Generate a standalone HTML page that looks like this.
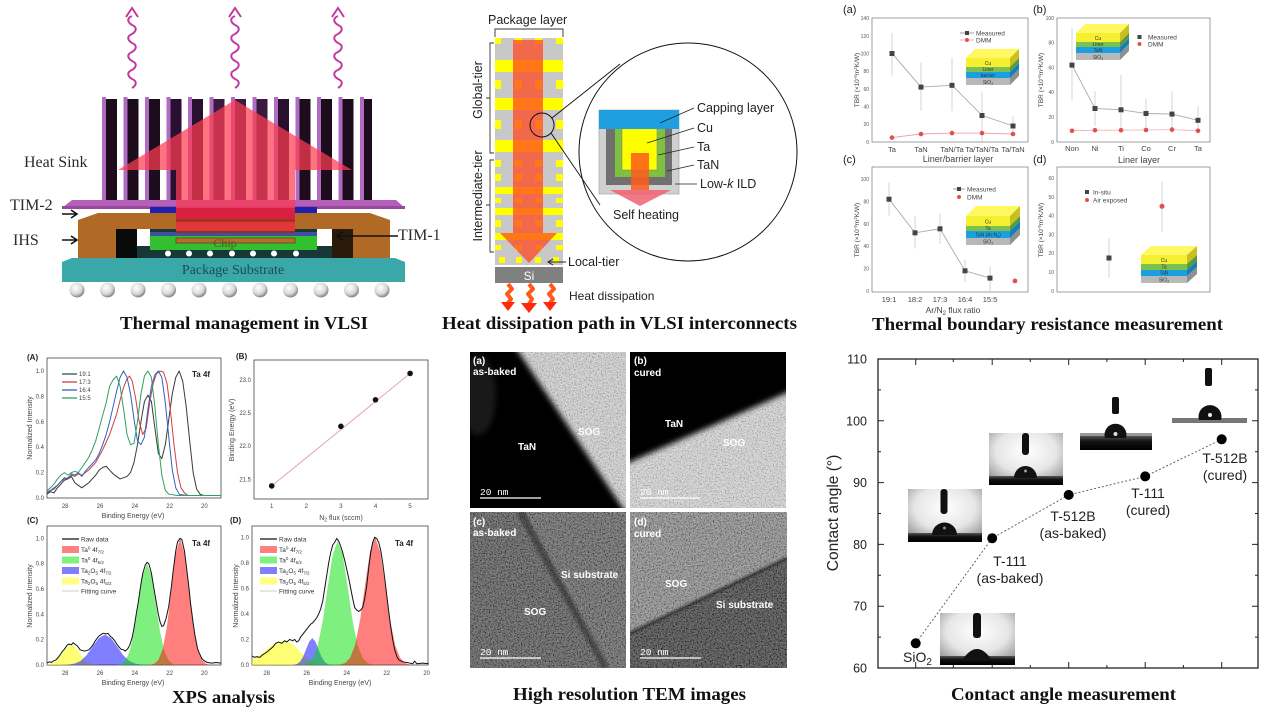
<!DOCTYPE html>
<html><head><meta charset="utf-8">
<style>
html,body{margin:0;padding:0;background:#fff;}
svg{display:block;}
</style></head><body>
<svg width="1268" height="716" viewBox="0 0 1268 716" xmlns="http://www.w3.org/2000/svg" font-family="Liberation Sans, sans-serif">
<defs>
  <radialGradient id="ball" cx="0.4" cy="0.35" r="0.7">
    <stop offset="0" stop-color="#ffffff"/><stop offset="0.6" stop-color="#d8d8d8"/><stop offset="1" stop-color="#707070"/>
  </radialGradient>
  <radialGradient id="dg" cx="0.5" cy="0.35" r="0.75">
    <stop offset="0" stop-color="#ffffff"/><stop offset="0.55" stop-color="#e6e6e6"/><stop offset="1" stop-color="#8a8a8a"/>
  </radialGradient>
  <linearGradient id="bar" x1="0" y1="0" x2="0" y2="1">
    <stop offset="0" stop-color="#555"/><stop offset="0.4" stop-color="#111"/><stop offset="1" stop-color="#000"/>
  </linearGradient>
  <filter id="bl" x="-10%" y="-10%" width="120%" height="120%"><feGaussianBlur stdDeviation="3"/></filter>
  <filter id="bl1" x="-10%" y="-10%" width="120%" height="120%"><feGaussianBlur stdDeviation="1.2"/></filter>
  <filter id="nz" x="0" y="0" width="100%" height="100%">
    <feTurbulence type="fractalNoise" baseFrequency="0.75" numOctaves="2" seed="5"/>
    <feColorMatrix type="matrix" values="2.2 0 0 0 -0.6  2.2 0 0 0 -0.6  2.2 0 0 0 -0.6  0 0 0 0 1"/>
  </filter>
  <clipPath id="ca"><rect x="470" y="352" width="156" height="156"/></clipPath>
  <clipPath id="cb"><rect x="630" y="352" width="156" height="156"/></clipPath>
  <clipPath id="cc"><rect x="470" y="512" width="156" height="156"/></clipPath>
  <clipPath id="cd"><rect x="630" y="512" width="157" height="156"/></clipPath>
</defs>

<rect width="1268" height="716" fill="#fff"/>

<!-- ================= PANEL 1: Thermal management ================= -->
<g fill="none" stroke="#c0399f" stroke-width="2">
  <path d="M132 88 c5 -3 5 -7 0 -9 c-5 -3 -5 -7 0 -9 c5 -3 5 -7 0 -9 c-5 -3 -5 -7 0 -9 c5 -3 5 -7 0 -9 c-5 -3 -5 -7 0 -9 c5 -3 5 -7 0 -9 c-5 -3 -5 -7 0 -9"/>
  <path d="M126 17 L132 8 L138 17"/>
  <path d="M235 88 c5 -3 5 -7 0 -9 c-5 -3 -5 -7 0 -9 c5 -3 5 -7 0 -9 c-5 -3 -5 -7 0 -9 c5 -3 5 -7 0 -9 c-5 -3 -5 -7 0 -9 c5 -3 5 -7 0 -9 c-5 -3 -5 -7 0 -9"/>
  <path d="M229 17 L235 8 L241 17"/>
  <path d="M338 88 c5 -3 5 -7 0 -9 c-5 -3 -5 -7 0 -9 c5 -3 5 -7 0 -9 c-5 -3 -5 -7 0 -9 c5 -3 5 -7 0 -9 c-5 -3 -5 -7 0 -9 c5 -3 5 -7 0 -9 c-5 -3 -5 -7 0 -9"/>
  <path d="M332 17 L338 8 L344 17"/>
</g>
<!-- fins -->
<g>
  <rect x="102" y="97" width="4" height="103" fill="#b06cc0"/><rect x="106" y="99" width="11" height="101" fill="#1c0c1c"/>
  <rect x="123.5" y="97" width="4" height="103" fill="#b06cc0"/><rect x="127.5" y="99" width="11" height="101" fill="#1c0c1c"/>
  <rect x="145" y="97" width="4" height="103" fill="#b06cc0"/><rect x="149" y="99" width="11" height="101" fill="#1c0c1c"/>
  <rect x="166.5" y="97" width="4" height="103" fill="#b06cc0"/><rect x="170.5" y="99" width="11" height="101" fill="#2a1030"/>
  <rect x="188" y="97" width="4" height="103" fill="#b06cc0"/><rect x="192" y="99" width="11" height="101" fill="#2a1030"/>
  <rect x="209.5" y="97" width="4" height="103" fill="#b06cc0"/><rect x="213.5" y="99" width="11" height="101" fill="#3a1a40"/>
  <rect x="231" y="97" width="4" height="103" fill="#b06cc0"/><rect x="235" y="99" width="11" height="101" fill="#3a1a40"/>
  <rect x="252.5" y="97" width="4" height="103" fill="#b06cc0"/><rect x="256.5" y="99" width="11" height="101" fill="#3a1a40"/>
  <rect x="274" y="97" width="4" height="103" fill="#b06cc0"/><rect x="278" y="99" width="11" height="101" fill="#2a1030"/>
  <rect x="295.5" y="97" width="4" height="103" fill="#b06cc0"/><rect x="299.5" y="99" width="11" height="101" fill="#1c0c1c"/>
  <rect x="317" y="97" width="4" height="103" fill="#b06cc0"/><rect x="321" y="99" width="11" height="101" fill="#1c0c1c"/>
  <rect x="338.5" y="97" width="4" height="103" fill="#b06cc0"/><rect x="342.5" y="99" width="11" height="101" fill="#1c0c1c"/>
  <rect x="360" y="97" width="4" height="103" fill="#b06cc0"/><rect x="364" y="99" width="8" height="101" fill="#1c0c1c"/>
</g>
<!-- base plate -->
<polygon points="62,208 72,200 396,200 405,208" fill="#b560b8"/>
<rect x="62" y="206" width="343" height="3" fill="#9a4a9e"/>
<!-- TIM-2 blue -->
<rect x="150" y="207" width="27" height="6" fill="#2020b0"/>
<rect x="295" y="207" width="22" height="6" fill="#2020b0"/>
<!-- IHS -->
<polygon points="78,220 98,213 370,213 390,220 390,258 78,258" fill="#b06a26"/>
<rect x="116" y="229" width="237" height="29" fill="#183838"/>
<rect x="116" y="229" width="21" height="29" fill="#0a0a0a"/>
<rect x="332" y="229" width="21" height="29" fill="#2a1a0a"/>
<rect x="137" y="229" width="13" height="17" fill="#ffffff"/>
<rect x="317" y="229" width="15" height="17" fill="#ffffff"/>
<rect x="150" y="232" width="167" height="4" fill="#4050a0"/>
<rect x="150" y="236" width="167" height="14" fill="#30c030"/>
<rect x="176" y="238" width="119" height="5" fill="#b07030" stroke="#7a3a1a" stroke-width="0.8"/>
<text x="225" y="247" font-family="Liberation Serif, serif" font-size="12" fill="#6b4a2a" text-anchor="middle">Chip</text>
<g fill="#ffffff"><circle cx="168" cy="253.5" r="3"/><circle cx="189" cy="253.5" r="3"/><circle cx="210" cy="253.5" r="3"/><circle cx="232" cy="253.5" r="3"/><circle cx="253" cy="253.5" r="3"/><circle cx="274" cy="253.5" r="3"/><circle cx="296" cy="253.5" r="3"/></g>
<!-- red heat path -->
<polygon points="235,100 352,170 295,170 295,213 176,213 176,170 118,170" fill="#ff3b50" opacity="0.72"/>
<rect x="176" y="208" width="119" height="11" fill="#d82040"/>
<rect x="176" y="219" width="119" height="3" fill="#a83020"/>
<rect x="176" y="222" width="119" height="9" fill="#e03838"/>
<rect x="176" y="231" width="119" height="2" fill="#903020"/>
<!-- substrate -->
<polygon points="62,262 72,258 395,258 405,262 405,282 62,282" fill="#3aa8a8"/>
<text x="233" y="274" font-family="Liberation Serif, serif" font-size="14" fill="#1a4a5a" text-anchor="middle">Package Substrate</text>
<g fill="url(#ball)">
  <circle cx="77" cy="290" r="7.5"/><circle cx="107.5" cy="290" r="7.5"/><circle cx="138" cy="290" r="7.5"/><circle cx="168.5" cy="290" r="7.5"/><circle cx="199" cy="290" r="7.5"/><circle cx="229.5" cy="290" r="7.5"/><circle cx="260" cy="290" r="7.5"/><circle cx="290.5" cy="290" r="7.5"/><circle cx="321" cy="290" r="7.5"/><circle cx="351.5" cy="290" r="7.5"/><circle cx="382" cy="290" r="7.5"/>
</g>
<!-- labels -->
<g font-family="Liberation Serif, serif" font-size="16" fill="#2a2a2a">
  <text x="24" y="167">Heat Sink</text>
  <text x="10" y="210">TIM-2</text>
  <text x="13" y="245">IHS</text>
  <text x="398" y="240">TIM-1</text>
</g>
<g stroke="#111" stroke-width="1.6" fill="none">
  <path d="M62 214 L76 214 M71 210 L77 214 L71 218"/>
  <path d="M62 240 L76 240 M71 236 L77 240 L71 244"/>
  <path d="M337 236 L398 236 M343 232 L336 236 L343 240"/>
</g>
<text x="120" y="329" font-family="Liberation Serif, serif" font-weight="bold" font-size="18" fill="#111" textLength="248" lengthAdjust="spacingAndGlyphs">Thermal management in VLSI</text>

<!-- ================= PANEL 2: Heat dissipation ================= -->
<text x="488" y="24" font-size="12.5" fill="#222">Package layer</text>
<path d="M495 37 L495 29 L563 29 L563 37" fill="none" stroke="#333" stroke-width="0.9"/>
<rect x="495" y="38" width="68" height="227" fill="#c8c8c8"/>
<g fill="#ffff00">
  <rect x="495" y="60" width="68" height="12"/><rect x="495" y="98" width="68" height="12"/><rect x="495" y="140" width="68" height="12"/>
  <rect x="495" y="187" width="68" height="7"/><rect x="495" y="208" width="68" height="7"/><rect x="495" y="233" width="68" height="7"/>
  <rect x="495" y="38" width="6" height="6"/><rect x="515" y="38" width="7" height="6"/><rect x="535" y="38" width="7" height="6"/><rect x="556" y="38" width="7" height="6"/>
  <rect x="495" y="80" width="6" height="9"/><rect x="515" y="80" width="7" height="9"/><rect x="535" y="80" width="7" height="9"/><rect x="556" y="80" width="7" height="9"/>
  <rect x="495" y="120" width="6" height="9"/><rect x="515" y="120" width="7" height="9"/><rect x="535" y="120" width="7" height="9"/><rect x="556" y="120" width="7" height="9"/>
  <rect x="495" y="160" width="6" height="7"/><rect x="515" y="160" width="7" height="7"/><rect x="535" y="160" width="7" height="7"/><rect x="556" y="160" width="7" height="7"/>
  <rect x="495" y="174" width="6" height="7"/><rect x="515" y="174" width="7" height="7"/><rect x="535" y="174" width="7" height="7"/><rect x="556" y="174" width="7" height="7"/>
  <rect x="495" y="198" width="6" height="5"/><rect x="515" y="198" width="7" height="5"/><rect x="535" y="198" width="7" height="5"/><rect x="556" y="198" width="7" height="5"/>
  <rect x="495" y="220" width="6" height="7"/><rect x="515" y="220" width="7" height="7"/><rect x="535" y="220" width="7" height="7"/><rect x="556" y="220" width="7" height="7"/>
  <rect x="495" y="245" width="6" height="5"/><rect x="515" y="245" width="7" height="5"/><rect x="535" y="245" width="7" height="5"/><rect x="556" y="245" width="7" height="5"/>
  <rect x="499" y="257" width="6" height="6"/><rect x="516" y="257" width="6" height="6"/><rect x="535" y="257" width="6" height="6"/><rect x="553" y="257" width="6" height="6"/>
</g>
<polygon points="513,40 543,40 543,233 557,233 529,263 500,233 513,233" fill="#ff4a20" opacity="0.75"/>
<rect x="495" y="267" width="68" height="16" fill="#808080"/>
<text x="529" y="280" font-size="12" fill="#fff" text-anchor="middle">Si</text>
<!-- brackets -->
<path d="M494 43 L490 43 L490 153 L494 153 M490 98 L486 98" fill="none" stroke="#333" stroke-width="0.9"/>
<path d="M494 160 L490 160 L490 252 L494 252 M490 205 L486 205" fill="none" stroke="#333" stroke-width="0.9"/>
<text transform="translate(482,90) rotate(-90)" font-size="12.5" fill="#222" text-anchor="middle">Global-tier</text>
<text transform="translate(482,196) rotate(-90)" font-size="12.5" fill="#222" text-anchor="middle">Intermediate-tier</text>
<path d="M566 262 L549 262 M553 259 L548 262 L553 265" fill="none" stroke="#222" stroke-width="1"/>
<text x="568" y="266" font-size="12.5" fill="#222">Local-tier</text>
<!-- heat dissipation arrows -->
<g fill="none" stroke="#ff5a1a" stroke-width="4" stroke-linejoin="round">
  <path d="M508 284 l4 5 l-5 5 l4 5 l-3 4"/>
  <path d="M529 284 l4 5 l-5 5 l4 5 l-3 5"/>
  <path d="M550 284 l4 5 l-5 5 l4 5 l-3 4"/>
</g>
<g fill="#ff2a0a">
  <polygon points="501,302 515,302 508,311"/><polygon points="521,303 537,303 529,313"/><polygon points="543,302 557,302 550,311"/>
</g>
<text x="569" y="300" font-size="12" fill="#222">Heat dissipation</text>
<!-- zoom circles -->
<circle cx="542" cy="125" r="12" fill="none" stroke="#111" stroke-width="1"/>
<line x1="552" y1="118" x2="620" y2="64" stroke="#111" stroke-width="0.9"/>
<line x1="551" y1="133" x2="600" y2="205" stroke="#111" stroke-width="0.9"/>
<circle cx="688" cy="152" r="109" fill="none" stroke="#111" stroke-width="1"/>
<rect x="599" y="110" width="80" height="84" fill="#d0d0d0" stroke="#999" stroke-width="0.6"/>
<rect x="606" y="128" width="66" height="57" fill="#707070"/>
<rect x="615" y="128" width="50" height="49" fill="#80c040"/>
<rect x="622" y="128" width="35" height="42" fill="#ffff00" stroke="#777" stroke-width="0.5"/>
<rect x="599" y="110" width="80" height="19" fill="#1ea0e0"/>
<rect x="631" y="153" width="18" height="37" fill="#ff5a1a" opacity="0.85"/>
<polygon points="610,190 671,190 640,206" fill="#f06070" opacity="0.85"/>
<g stroke="#222" stroke-width="0.8">
  <line x1="694" y1="108" x2="660" y2="123"/>
  <line x1="694" y1="128" x2="647" y2="143"/>
  <line x1="694" y1="147" x2="658" y2="155"/>
  <line x1="694" y1="165" x2="667" y2="171"/>
  <line x1="697" y1="184" x2="675" y2="184"/>
</g>
<g font-size="12.5" fill="#222">
  <text x="697" y="112">Capping layer</text>
  <text x="697" y="132">Cu</text>
  <text x="697" y="151">Ta</text>
  <text x="697" y="169">TaN</text>
  <text x="700" y="188">Low-<tspan font-style="italic">k</tspan> ILD</text>
  <text x="646" y="219" text-anchor="middle">Self heating</text>
</g>
<text x="442" y="329" font-family="Liberation Serif, serif" font-weight="bold" font-size="18" fill="#111" textLength="355" lengthAdjust="spacingAndGlyphs">Heat dissipation path in VLSI interconnects</text>

<!-- ================= PANEL 3: TBR ================= -->
<g font-size="11" fill="#222">
  <text x="843" y="13">(a)</text><text x="1033" y="13">(b)</text>
  <text x="843" y="163">(c)</text><text x="1033" y="163">(d)</text>
</g>
<g fill="none" stroke="#777" stroke-width="0.7">
  <rect x="872" y="18" width="156" height="124"/>
  <rect x="1057" y="18" width="153" height="124"/>
  <rect x="872" y="167" width="156" height="125"/>
  <rect x="1057" y="167" width="153" height="125"/>
</g>
<!-- (a) -->
<g font-size="5" fill="#555" text-anchor="end">
  <text x="869" y="144">0</text><text x="869" y="126">20</text><text x="869" y="108.5">40</text><text x="869" y="91">60</text><text x="869" y="73">80</text><text x="869" y="55.5">100</text><text x="869" y="38">120</text><text x="869" y="20">140</text>
</g>
<g font-size="7.5" fill="#444" text-anchor="middle">
  <text x="892" y="152">Ta</text><text x="921" y="152">TaN</text><text x="952" y="152">TaN/Ta</text><text x="982" y="152">Ta/TaN/Ta</text><text x="1013" y="152">Ta/TaN</text>
</g>
<text x="958" y="162" font-size="9" fill="#444" text-anchor="middle">Liner/barrier layer</text>
<text transform="translate(859,80) rotate(-90)" font-size="6.5" fill="#444" text-anchor="middle">TBR  (×10<tspan font-size="4.5" dy="-2">-9</tspan><tspan dy="2">m</tspan><tspan font-size="4.5" dy="-2">2</tspan><tspan dy="2">K/W)</tspan></text>
<g stroke="#bbb" stroke-width="0.6">
  <line x1="892" y1="33" x2="892" y2="75.5"/><line x1="921" y1="62.3" x2="921" y2="111"/><line x1="952" y1="57.8" x2="952" y2="111"/><line x1="982" y1="91.5" x2="982" y2="142"/><line x1="1013" y1="116.3" x2="1013" y2="133"/>
</g>
<polyline points="892,53.4 921,87.1 952,85.3 982,115.4 1013,126" fill="none" stroke="#aaa" stroke-width="0.9"/>
<polyline points="892,137.6 921,134 952,133.1 982,133.1 1013,134" fill="none" stroke="#f0a0a0" stroke-width="0.9"/>
<g fill="#444"><rect x="889.5" y="51" width="5" height="5"/><rect x="918.5" y="84.6" width="5" height="5"/><rect x="949.5" y="82.8" width="5" height="5"/><rect x="979.5" y="113" width="5" height="5"/><rect x="1010.5" y="123.5" width="5" height="5"/></g>
<g fill="#e05050"><circle cx="892" cy="137.6" r="2.3"/><circle cx="921" cy="134" r="2.3"/><circle cx="952" cy="133.1" r="2.3"/><circle cx="982" cy="133.1" r="2.3"/><circle cx="1013" cy="134" r="2.3"/></g>
<line x1="960" y1="33" x2="974" y2="33" stroke="#888" stroke-width="0.8"/><rect x="965" y="31" width="4" height="4" fill="#444"/>
<line x1="960" y1="40" x2="974" y2="40" stroke="#f0a0a0" stroke-width="0.8"/><circle cx="967" cy="40" r="2" fill="#e05050"/>
<g font-size="6.5" fill="#444"><text x="976" y="35.5">Measured</text><text x="976" y="42.5">DMM</text></g>
<!-- (b) -->
<g font-size="5" fill="#555" text-anchor="end">
  <text x="1054" y="144">0</text><text x="1054" y="119">20</text><text x="1054" y="94">40</text><text x="1054" y="69.5">60</text><text x="1054" y="44.5">80</text><text x="1054" y="20">100</text>
</g>
<g font-size="7.5" fill="#444" text-anchor="middle">
  <text x="1072" y="151">Non</text><text x="1095" y="151">Ni</text><text x="1121" y="151">Ti</text><text x="1146" y="151">Co</text><text x="1172" y="151">Cr</text><text x="1198" y="151">Ta</text>
</g>
<text x="1139" y="163" font-size="9" fill="#444" text-anchor="middle">Liner layer</text>
<text transform="translate(1043,80) rotate(-90)" font-size="6.5" fill="#444" text-anchor="middle">TBR  (×10<tspan font-size="4.5" dy="-2">-9</tspan><tspan dy="2">m</tspan><tspan font-size="4.5" dy="-2">2</tspan><tspan dy="2">K/W)</tspan></text>
<g stroke="#bbb" stroke-width="0.6">
  <line x1="1072" y1="27.9" x2="1072" y2="99.8"/><line x1="1095" y1="91.2" x2="1095" y2="125.9"/><line x1="1121" y1="75" x2="1121" y2="130.8"/><line x1="1146" y1="98.6" x2="1146" y2="129.6"/><line x1="1172" y1="91.2" x2="1172" y2="133.3"/><line x1="1198" y1="106" x2="1198" y2="130.8"/>
</g>
<polyline points="1072,65.1 1095,108.5 1121,109.8 1146,113.5 1172,114.1 1198,120.3" fill="none" stroke="#aaa" stroke-width="0.9"/>
<polyline points="1072,130.8 1095,130.2 1121,130.2 1146,130 1172,129.6 1198,130.8" fill="none" stroke="#f0b0b0" stroke-width="0.8"/>
<g fill="#444"><rect x="1069.5" y="62.6" width="5" height="5"/><rect x="1092.5" y="106" width="5" height="5"/><rect x="1118.5" y="107.3" width="5" height="5"/><rect x="1143.5" y="111" width="5" height="5"/><rect x="1169.5" y="111.6" width="5" height="5"/><rect x="1195.5" y="117.8" width="5" height="5"/></g>
<g fill="#e05050"><circle cx="1072" cy="130.8" r="2.3"/><circle cx="1095" cy="130.2" r="2.3"/><circle cx="1121" cy="130.2" r="2.3"/><circle cx="1146" cy="130" r="2.3"/><circle cx="1172" cy="129.6" r="2.3"/><circle cx="1198" cy="130.8" r="2.3"/></g>
<rect x="1137.5" y="35" width="4" height="4" fill="#444"/><circle cx="1139.5" cy="44" r="2" fill="#e05050"/>
<g font-size="6.5" fill="#444"><text x="1148" y="39.5">Measured</text><text x="1148" y="46.5">DMM</text></g>
<!-- (c) -->
<g font-size="5" fill="#555" text-anchor="end">
  <text x="869" y="293">0</text><text x="869" y="270.5">20</text><text x="869" y="248">40</text><text x="869" y="226">60</text><text x="869" y="203.5">80</text><text x="869" y="181">100</text>
</g>
<g font-size="7.5" fill="#444" text-anchor="middle">
  <text x="889" y="302">19:1</text><text x="915" y="302">18:2</text><text x="940" y="302">17:3</text><text x="965" y="302">16:4</text><text x="990" y="302">15:5</text>
</g>
<text x="953" y="313" font-size="8.5" fill="#444" text-anchor="middle">Ar/N<tspan font-size="6" dy="2">2</tspan><tspan dy="-2"> flux ratio</tspan></text>
<text transform="translate(859,230) rotate(-90)" font-size="6.5" fill="#444" text-anchor="middle">TBR  (×10<tspan font-size="4.5" dy="-2">-9</tspan><tspan dy="2">m</tspan><tspan font-size="4.5" dy="-2">2</tspan><tspan dy="2">K/W)</tspan></text>
<g stroke="#bbb" stroke-width="0.6">
  <line x1="889" y1="182.4" x2="889" y2="216"/><line x1="915" y1="216" x2="915" y2="248.4"/><line x1="940" y1="213.7" x2="940" y2="244"/><line x1="965" y1="259.6" x2="965" y2="282"/><line x1="990" y1="266.4" x2="990" y2="291"/>
</g>
<polyline points="889,199.2 915,232.8 940,228.8 965,270.8 990,278.1" fill="none" stroke="#aaa" stroke-width="0.9"/>
<g fill="#444"><rect x="886.5" y="196.7" width="5" height="5"/><rect x="912.5" y="230.3" width="5" height="5"/><rect x="937.5" y="226.3" width="5" height="5"/><rect x="962.5" y="268.3" width="5" height="5"/><rect x="987.5" y="275.6" width="5" height="5"/></g>
<circle cx="1015" cy="280.9" r="2.4" fill="#e05050"/>
<line x1="953" y1="189" x2="965" y2="189" stroke="#888" stroke-width="0.8"/><rect x="957" y="187" width="4" height="4" fill="#444"/>
<circle cx="959" cy="197" r="2" fill="#e05050"/>
<g font-size="6.5" fill="#444"><text x="967" y="191.5">Measured</text><text x="967" y="199.5">DMM</text></g>
<!-- (d) -->
<g font-size="5" fill="#555" text-anchor="end">
  <text x="1054" y="293">0</text><text x="1054" y="274">10</text><text x="1054" y="255">20</text><text x="1054" y="236.5">30</text><text x="1054" y="217.5">40</text><text x="1054" y="199">50</text><text x="1054" y="180">60</text>
</g>
<text transform="translate(1043,230) rotate(-90)" font-size="6.5" fill="#444" text-anchor="middle">TBR  (×10<tspan font-size="4.5" dy="-2">-9</tspan><tspan dy="2">m</tspan><tspan font-size="4.5" dy="-2">2</tspan><tspan dy="2">K/W)</tspan></text>
<g stroke="#bbb" stroke-width="0.6"><line x1="1109" y1="238.3" x2="1109" y2="277.8"/><line x1="1162" y1="181.8" x2="1162" y2="231.7"/></g>
<rect x="1106.5" y="255.5" width="5" height="5" fill="#444"/>
<circle cx="1162" cy="206.3" r="2.5" fill="#e05050"/>
<rect x="1085" y="190" width="4" height="4" fill="#444"/><circle cx="1087" cy="200" r="2" fill="#e05050"/>
<g font-size="6.5" fill="#444"><text x="1093" y="194.5">In-situ</text><text x="1093" y="202.5">Air exposed</text></g>
<!-- insets -->
<g transform="translate(966,58)">
  <polygon points="0,0 9,-9 53,-9 44,0" fill="#fff860"/>
  <rect x="0" y="0" width="44" height="9" fill="#f5f032"/><rect x="0" y="9" width="44" height="5" fill="#7cc050"/><rect x="0" y="14" width="44" height="6" fill="#1aa0e0"/><rect x="0" y="20" width="44" height="7" fill="#b8b8b8"/>
  <polygon points="44,0 53,-9 53,0 44,9" fill="#c8c020"/><polygon points="44,9 53,0 53,5 44,14" fill="#5a9a3a"/><polygon points="44,14 53,5 53,11 44,20" fill="#1580b8"/><polygon points="44,20 53,11 53,18 44,27" fill="#909090"/>
  <g font-size="5" fill="#333" text-anchor="middle"><text x="22" y="7">Cu</text><text x="22" y="13">Liner</text><text x="22" y="19">barrier</text><text x="22" y="26">SiO<tspan font-size="3.5" dy="1">2</tspan></text></g>
</g>
<g transform="translate(1076,33)">
  <polygon points="0,0 9,-9 53,-9 44,0" fill="#fff860"/>
  <rect x="0" y="0" width="44" height="9" fill="#f5f032"/><rect x="0" y="9" width="44" height="5" fill="#7cc050"/><rect x="0" y="14" width="44" height="6" fill="#1aa0e0"/><rect x="0" y="20" width="44" height="7" fill="#b8b8b8"/>
  <polygon points="44,0 53,-9 53,0 44,9" fill="#c8c020"/><polygon points="44,9 53,0 53,5 44,14" fill="#5a9a3a"/><polygon points="44,14 53,5 53,11 44,20" fill="#1580b8"/><polygon points="44,20 53,11 53,18 44,27" fill="#909090"/>
  <g font-size="5" fill="#333" text-anchor="middle"><text x="22" y="7">Cu</text><text x="22" y="13">Liner</text><text x="22" y="19">TaN</text><text x="22" y="26">SiO<tspan font-size="3.5" dy="1">2</tspan></text></g>
</g>
<g transform="translate(966,216)">
  <polygon points="0,0 10,-10 54,-10 44,0" fill="#fff860"/>
  <rect x="0" y="0" width="44" height="10" fill="#f5f032"/><rect x="0" y="10" width="44" height="5" fill="#7cc050"/><rect x="0" y="15" width="44" height="7" fill="#1aa0e0"/><rect x="0" y="22" width="44" height="7" fill="#b8b8b8"/>
  <polygon points="44,0 54,-10 54,0 44,10" fill="#c8c020"/><polygon points="44,10 54,0 54,5 44,15" fill="#5a9a3a"/><polygon points="44,15 54,5 54,12 44,22" fill="#1580b8"/><polygon points="44,22 54,12 54,19 44,29" fill="#909090"/>
  <g font-size="5" fill="#333" text-anchor="middle"><text x="22" y="7.5">Cu</text><text x="22" y="14">Ta</text><text x="22" y="20.5">TaN (Ar:N<tspan font-size="3.5" dy="1">2</tspan><tspan dy="-1">)</tspan></text><text x="22" y="27.5">SiO<tspan font-size="3.5" dy="1">2</tspan></text></g>
</g>
<g transform="translate(1141,255)">
  <polygon points="0,0 10,-9 56,-9 46,0" fill="#fff860"/>
  <rect x="0" y="0" width="46" height="9" fill="#f5f032"/><rect x="0" y="9" width="46" height="6" fill="#7cc050"/><rect x="0" y="15" width="46" height="6" fill="#1aa0e0"/><rect x="0" y="21" width="46" height="7" fill="#b8b8b8"/>
  <polygon points="46,0 56,-9 56,0 46,9" fill="#c8c020"/><polygon points="46,9 56,0 56,6 46,15" fill="#5a9a3a"/><polygon points="46,15 56,6 56,12 46,21" fill="#1580b8"/><polygon points="46,21 56,12 56,19 46,28" fill="#909090"/>
  <g font-size="5" fill="#333" text-anchor="middle"><text x="23" y="7">Cu</text><text x="23" y="13.5">Ta</text><text x="23" y="19.5">TaN</text><text x="23" y="26.5">SiO<tspan font-size="3.5" dy="1">2</tspan></text></g>
</g>
<text x="872" y="330" font-family="Liberation Serif, serif" font-weight="bold" font-size="18" fill="#111" textLength="351" lengthAdjust="spacingAndGlyphs">Thermal boundary resistance measurement</text>

<!-- ================= XPS ================= -->
<g fill="none" stroke="#444" stroke-width="0.8">
  <rect x="47" y="358" width="174" height="140"/>
  <rect x="254" y="360" width="174" height="139"/>
  <rect x="47" y="526" width="174" height="139"/>
  <rect x="252" y="526" width="176" height="139"/>
</g>
<g font-size="8" font-weight="bold" fill="#222">
  <text x="27" y="360">(A)</text><text x="236" y="359">(B)</text><text x="27" y="523">(C)</text><text x="230" y="523">(D)</text>
  <text x="192" y="377">Ta 4f</text><text x="192" y="546">Ta 4f</text><text x="395" y="546">Ta 4f</text>
</g>
<g font-size="6" fill="#444" text-anchor="middle">
  <text x="65.2" y="508">28</text><text x="100" y="508">26</text><text x="134.8" y="508">24</text><text x="169.6" y="508">22</text><text x="204.4" y="508">20</text>
  <text x="65.2" y="675">28</text><text x="100" y="675">26</text><text x="134.8" y="675">24</text><text x="169.6" y="675">22</text><text x="204.4" y="675">20</text>
  <text x="266.7" y="675">28</text><text x="306.7" y="675">26</text><text x="346.7" y="675">24</text><text x="386.7" y="675">22</text><text x="426.7" y="675">20</text>
  <text x="271.7" y="508">1</text><text x="306.3" y="508">2</text><text x="340.9" y="508">3</text><text x="375.5" y="508">4</text><text x="410.1" y="508">5</text>
</g>
<g font-size="6" fill="#444" text-anchor="end">
  <text x="44" y="500">0.0</text><text x="44" y="474.6">0.2</text><text x="44" y="449.2">0.4</text><text x="44" y="423.8">0.6</text><text x="44" y="398.4">0.8</text><text x="44" y="373">1.0</text>
  <text x="44" y="667">0.0</text><text x="44" y="641.7">0.2</text><text x="44" y="616.3">0.4</text><text x="44" y="591">0.6</text><text x="44" y="565.7">0.8</text><text x="44" y="540.3">1.0</text>
  <text x="249" y="667">0.0</text><text x="249" y="641.5">0.2</text><text x="249" y="616">0.4</text><text x="249" y="590.4">0.6</text><text x="249" y="564.9">0.8</text><text x="249" y="539.3">1.0</text>
  <text x="251" y="481.3">21.5</text><text x="251" y="448.2">22.0</text><text x="251" y="415.1">22.5</text><text x="251" y="382">23.0</text>
</g>
<g font-size="7" fill="#444" text-anchor="middle">
  <text x="133" y="518">Binding Energy (eV)</text>
  <text x="341" y="520">N<tspan font-size="5" dy="1.5">2</tspan><tspan dy="-1.5"> flux (sccm)</tspan></text>
  <text x="133" y="685">Binding Energy (eV)</text>
  <text x="340" y="685">Binding Energy (eV)</text>
  <text transform="translate(32,428) rotate(-90)">Normalized Intensity</text>
  <text transform="translate(234,430) rotate(-90)">Binding Energy (eV)</text>
  <text transform="translate(32,596) rotate(-90)">Normalized Intensity</text>
  <text transform="translate(238,596) rotate(-90)">Normalized Intensity</text>
</g>
<g stroke-width="1.3">
  <line x1="62" y1="374" x2="77" y2="374" stroke="#3d5048"/>
  <line x1="62" y1="382" x2="77" y2="382" stroke="#d04040"/>
  <line x1="62" y1="390" x2="77" y2="390" stroke="#3060c0"/>
  <line x1="62" y1="398" x2="77" y2="398" stroke="#30a060"/>
</g>
<g font-size="6" fill="#444"><text x="79" y="376">19:1</text><text x="79" y="384">17:3</text><text x="79" y="392">16:4</text><text x="79" y="400">15:5</text></g>
<g transform="matrix(-17.4,0,0,-127,551.6,498)" fill="none" stroke-width="1" stroke-linejoin="round">
  <polyline vector-effect="non-scaling-stroke" stroke="#3a3a3a" points="29,0.03 28.8,0.05 28.6,0.04 28.4,0.08 28.2,0.11 28,0.14 27.8,0.15 27.6,0.17 27.4,0.12 27.2,0.1 27,0.08 26.8,0.1 26.6,0.12 26.4,0.15 26.2,0.18 26,0.22 25.8,0.24 25.6,0.25 25.4,0.22 25.2,0.19 25,0.17 24.8,0.15 24.6,0.16 24.4,0.17 24.2,0.2 24,0.28 23.8,0.42 23.6,0.6 23.4,0.76 23.2,0.81 23,0.76 22.8,0.55 22.6,0.35 22.4,0.31 22.2,0.42 22,0.62 21.8,0.82 21.6,0.95 21.4,1.0 21.2,0.92 21,0.72 20.8,0.45 20.6,0.2 20.4,0.07 20.2,0.03 20,0.02 19.5,0.02 19,0.02"/>
  <polyline vector-effect="non-scaling-stroke" stroke="#d04040" points="29,0.05 28.8,0.06 28.6,0.08 28.4,0.1 28.2,0.13 28,0.15 27.8,0.16 27.6,0.18 27.4,0.17 27.2,0.19 27,0.18 26.8,0.2 26.6,0.22 26.4,0.25 26.2,0.28 26,0.33 25.8,0.38 25.6,0.44 25.4,0.5 25.2,0.58 25,0.66 24.8,0.77 24.6,0.87 24.4,0.94 24.25,0.96 24.1,0.92 23.9,0.78 23.7,0.6 23.5,0.5 23.3,0.55 23.1,0.75 22.9,0.9 22.7,0.98 22.5,1.0 22.3,0.99 22.1,0.9 21.9,0.68 21.7,0.42 21.5,0.2 21.3,0.08 21.1,0.04 20.9,0.02 20,0.02 19,0.02"/>
  <polyline vector-effect="non-scaling-stroke" stroke="#3060c0" points="29,0.04 28.8,0.06 28.6,0.07 28.4,0.1 28.2,0.13 28,0.16 27.8,0.15 27.6,0.19 27.4,0.18 27.2,0.2 27,0.17 26.8,0.21 26.6,0.24 26.4,0.27 26.2,0.3 26,0.35 25.8,0.42 25.6,0.5 25.4,0.6 25.2,0.72 25,0.84 24.8,0.95 24.6,1.0 24.4,0.95 24.2,0.82 24,0.62 23.8,0.45 23.6,0.42 23.4,0.48 23.2,0.7 23,0.88 22.8,0.97 22.6,1.0 22.4,0.95 22.2,0.75 22,0.48 21.8,0.22 21.6,0.08 21.4,0.03 21,0.02 19,0.02"/>
  <polyline vector-effect="non-scaling-stroke" stroke="#30a060" points="29,0.06 28.8,0.08 28.6,0.11 28.4,0.15 28.2,0.18 28,0.2 27.8,0.18 27.6,0.2 27.4,0.21 27.2,0.2 27,0.24 26.8,0.28 26.6,0.32 26.4,0.38 26.2,0.45 26,0.55 25.8,0.65 25.6,0.75 25.4,0.88 25.2,0.93 25,0.96 24.8,0.88 24.6,0.7 24.4,0.5 24.2,0.42 24,0.43 23.8,0.6 23.6,0.82 23.4,0.96 23.2,1.0 23,0.95 22.8,0.72 22.6,0.42 22.4,0.18 22.2,0.06 22,0.03 21.5,0.02 19,0.02"/>
</g>
<line x1="271.7" y1="485.9" x2="410.1" y2="373.4" stroke="#e0a0a0" stroke-width="0.9"/>
<g fill="#111"><circle cx="271.7" cy="485.9" r="2.8"/><circle cx="340.9" cy="426.3" r="2.8"/><circle cx="375.5" cy="399.8" r="2.8"/><circle cx="410.1" cy="373.4" r="2.8"/></g>
<g transform="matrix(-17.4,0,0,-126.7,551.6,665)">
  <polygon fill="#ffff00" fill-opacity="0.55" points="25.87,0 26.12,0.0015 26.37,0.006 26.62,0.02 26.87,0.05 27.12,0.095 27.37,0.14 27.62,0.16 27.87,0.14 28.12,0.095 28.37,0.05 28.62,0.02 28.87,0.006 29,0.003 29,0"/>
  <polygon fill="#0000ff" fill-opacity="0.5" points="23.22,0 23.57,0.0026 23.92,0.0106 24.27,0.032 24.62,0.078 24.97,0.146 25.32,0.212 25.67,0.24 26.02,0.212 26.37,0.146 26.72,0.078 27.07,0.032 27.42,0.0106 27.77,0.0026 28.12,0"/>
  <polygon fill="#00e000" fill-opacity="0.5" points="21.5,0 21.75,0.007 22,0.035 22.25,0.108 22.5,0.26 22.75,0.485 23,0.706 23.25,0.8 23.5,0.706 23.75,0.485 24,0.26 24.25,0.108 24.5,0.035 24.75,0.007 25,0"/>
  <polygon fill="#ff0000" fill-opacity="0.5" points="19.6,0 19.85,0.009 20.1,0.039 20.35,0.125 20.6,0.31 20.85,0.594 21.1,0.878 21.35,1 21.6,0.878 21.85,0.594 22.1,0.31 22.35,0.125 22.6,0.039 22.85,0.009 23.1,0"/>
  <polyline vector-effect="non-scaling-stroke" fill="none" stroke="#111" stroke-width="1" points="29,0.016 28.85,0.025 28.75,0.02 28.6,0.035 28.5,0.039 28.35,0.06 28.25,0.08 28.1,0.11 28,0.125 27.85,0.155 27.75,0.165 27.6,0.16 27.5,0.175 27.35,0.16 27.25,0.15 27.1,0.12 27,0.116 26.85,0.11 26.75,0.113 26.6,0.12 26.5,0.134 26.35,0.16 26.25,0.185 26.1,0.215 26,0.23 25.85,0.245 25.75,0.25 25.6,0.245 25.5,0.25 25.35,0.225 25.25,0.215 25.1,0.19 25,0.167 24.85,0.14 24.75,0.125 24.6,0.12 24.5,0.11 24.35,0.13 24.25,0.155 24.1,0.22 24,0.29 23.85,0.42 23.75,0.5 23.6,0.64 23.5,0.72 23.35,0.79 23.25,0.81 23.15,0.8 23,0.725 22.85,0.6 22.75,0.52 22.6,0.4 22.5,0.34 22.4,0.305 22.3,0.31 22.15,0.37 22,0.465 21.85,0.62 21.75,0.74 21.6,0.9 21.5,0.97 21.35,1.0 21.25,0.99 21.1,0.9 21,0.79 20.85,0.62 20.75,0.487 20.6,0.33 20.5,0.237 20.35,0.13 20.25,0.095 20.1,0.05 20,0.037 19.8,0.02 19.5,0.015 19.3,0.02 19,0.015"/>
</g>
<g>
  <line x1="62" y1="539" x2="79" y2="539" stroke="#111" stroke-width="1.2"/>
  <rect x="62" y="546" width="17" height="7" fill="#ff8080"/>
  <rect x="62" y="556.5" width="17" height="7" fill="#80f080"/>
  <rect x="62" y="567" width="17" height="7" fill="#8080ff"/>
  <rect x="62" y="577.5" width="17" height="7" fill="#ffff80"/>
  <line x1="62" y1="591" x2="79" y2="591" stroke="#ccc" stroke-width="1"/>
</g>
<g font-size="6.5" fill="#333">
  <text x="81" y="541.5">Raw data</text>
  <text x="81" y="552">Ta<tspan font-size="4.5" dy="-2.5">0</tspan><tspan dy="2.5"> 4f</tspan><tspan font-size="4.5" dy="1.5">7/2</tspan></text>
  <text x="81" y="562.5">Ta<tspan font-size="4.5" dy="-2.5">0</tspan><tspan dy="2.5"> 4f</tspan><tspan font-size="4.5" dy="1.5">5/2</tspan></text>
  <text x="81" y="573">Ta<tspan font-size="4.5" dy="1.5">2</tspan><tspan dy="-1.5">O</tspan><tspan font-size="4.5" dy="1.5">5</tspan><tspan dy="-1.5"> 4f</tspan><tspan font-size="4.5" dy="1.5">7/2</tspan></text>
  <text x="81" y="583.5">Ta<tspan font-size="4.5" dy="1.5">2</tspan><tspan dy="-1.5">O</tspan><tspan font-size="4.5" dy="1.5">5</tspan><tspan dy="-1.5"> 4f</tspan><tspan font-size="4.5" dy="1.5">5/2</tspan></text>
  <text x="81" y="593.5">Fitting curve</text>
</g>
<g transform="matrix(-20,0,0,-127.7,826.7,665)">
  <polygon fill="#ffff00" fill-opacity="0.55" points="24.65,0 25,0.002 25.35,0.008 25.7,0.026 26.05,0.062 26.4,0.115 26.75,0.168 27.1,0.19 27.45,0.175 27.8,0.15 28.15,0.1 28.5,0.06 28.73,0.04 28.73,0"/>
  <polygon fill="#0000ff" fill-opacity="0.5" points="24.67,0 24.82,0.002 24.97,0.009 25.12,0.028 25.27,0.068 25.42,0.127 25.57,0.185 25.72,0.21 25.87,0.185 26.02,0.127 26.17,0.068 26.32,0.028 26.47,0.009 26.62,0.002 26.77,0"/>
  <polygon fill="#00e000" fill-opacity="0.5" points="22.45,0 22.7,0.0033 22.95,0.015 23.2,0.054 23.45,0.152 23.7,0.342 23.95,0.61 24.2,0.864 24.45,0.97 24.7,0.864 24.95,0.61 25.2,0.342 25.45,0.152 25.7,0.054 25.95,0.015 26.2,0.0033 26.45,0"/>
  <polygon fill="#ff0000" fill-opacity="0.5" points="20.58,0 20.83,0.0034 21.08,0.0155 21.33,0.0554 21.58,0.157 21.83,0.353 22.08,0.629 22.33,0.891 22.58,1 22.83,0.891 23.08,0.629 23.33,0.353 23.58,0.157 23.83,0.0554 24.08,0.0155 24.33,0.0034 24.58,0"/>
  <polyline vector-effect="non-scaling-stroke" fill="none" stroke="#111" stroke-width="1" points="28.73,0.07 28.6,0.06 28.5,0.065 28.35,0.06 28.2,0.08 28.1,0.09 28,0.1 27.85,0.12 27.7,0.14 27.55,0.17 27.4,0.18 27.25,0.17 27.1,0.19 27,0.18 26.85,0.2 26.7,0.19 26.6,0.2 26.5,0.18 26.4,0.19 26.3,0.22 26.2,0.24 26.1,0.26 26,0.28 25.9,0.3 25.8,0.32 25.7,0.33 25.6,0.35 25.5,0.37 25.4,0.4 25.3,0.44 25.2,0.5 25.1,0.6 25,0.7 24.9,0.8 24.8,0.88 24.7,0.94 24.6,0.96 24.5,0.99 24.4,0.97 24.3,0.93 24.2,0.88 24.1,0.82 24,0.75 23.9,0.68 23.8,0.6 23.7,0.52 23.6,0.45 23.5,0.43 23.4,0.42 23.3,0.43 23.2,0.45 23.1,0.52 23,0.62 22.9,0.76 22.8,0.88 22.7,0.96 22.6,1.0 22.5,0.99 22.4,0.96 22.3,0.9 22.2,0.8 22.1,0.68 22,0.55 21.9,0.42 21.8,0.3 21.7,0.2 21.6,0.12 21.5,0.07 21.4,0.04 21.2,0.025 21,0.02 20.7,0.01 20.6,0.03 20.5,0.01 20.2,0.015 19.9,0.01"/>
</g>
<g>
  <line x1="260" y1="539" x2="277" y2="539" stroke="#111" stroke-width="1.2"/>
  <rect x="260" y="546" width="17" height="7" fill="#ff8080"/>
  <rect x="260" y="556.5" width="17" height="7" fill="#80f080"/>
  <rect x="260" y="567" width="17" height="7" fill="#8080ff"/>
  <rect x="260" y="577.5" width="17" height="7" fill="#ffff80"/>
  <line x1="260" y1="591" x2="277" y2="591" stroke="#ccc" stroke-width="1"/>
</g>
<g font-size="6.5" fill="#333">
  <text x="279" y="541.5">Raw data</text>
  <text x="279" y="552">Ta<tspan font-size="4.5" dy="-2.5">0</tspan><tspan dy="2.5"> 4f</tspan><tspan font-size="4.5" dy="1.5">7/2</tspan></text>
  <text x="279" y="562.5">Ta<tspan font-size="4.5" dy="-2.5">0</tspan><tspan dy="2.5"> 4f</tspan><tspan font-size="4.5" dy="1.5">5/2</tspan></text>
  <text x="279" y="573">Ta<tspan font-size="4.5" dy="1.5">2</tspan><tspan dy="-1.5">O</tspan><tspan font-size="4.5" dy="1.5">5</tspan><tspan dy="-1.5"> 4f</tspan><tspan font-size="4.5" dy="1.5">7/2</tspan></text>
  <text x="279" y="583.5">Ta<tspan font-size="4.5" dy="1.5">2</tspan><tspan dy="-1.5">O</tspan><tspan font-size="4.5" dy="1.5">5</tspan><tspan dy="-1.5"> 4f</tspan><tspan font-size="4.5" dy="1.5">5/2</tspan></text>
  <text x="279" y="593.5">Fitting curve</text>
</g>
<text x="172" y="703" font-family="Liberation Serif, serif" font-weight="bold" font-size="18" fill="#111" textLength="103" lengthAdjust="spacingAndGlyphs">XPS analysis</text>

<!-- ================= TEM ================= -->
<g clip-path="url(#ca)">
  <rect x="470" y="352" width="156" height="156" fill="#d2d2d2"/>
  <rect x="470" y="352" width="156" height="156" filter="url(#nz)" opacity="0.3"/>
  <polygon points="440,330 504,330 634,525 440,525" fill="#060606" filter="url(#bl)"/>
  <ellipse cx="478" cy="395" rx="18" ry="40" fill="#2a2a2a" opacity="0.6" filter="url(#bl)"/>
</g>
<g clip-path="url(#cb)">
  <rect x="630" y="352" width="156" height="156" fill="#d6d6d6"/>
  <rect x="630" y="352" width="156" height="156" filter="url(#nz)" opacity="0.3"/>
  <polygon points="615,330 805,330 805,384.6 615,468.6" fill="#050505" filter="url(#bl)"/>
</g>
<g clip-path="url(#cc)">
  <rect x="470" y="512" width="156" height="156" fill="#3c3c3c"/>
  <polygon points="522,505 640,505 640,680 612,680" fill="#4c4c4c"/>
  <rect x="470" y="512" width="156" height="156" filter="url(#nz)" opacity="0.4"/>
  <line x1="520" y1="512" x2="606" y2="668" stroke="#1a1a1a" stroke-width="7" opacity="0.45" filter="url(#bl1)"/>
</g>
<g clip-path="url(#cd)">
  <rect x="630" y="512" width="157" height="156" fill="#7c7c7c"/>
  <polygon points="620,637.8 800,551.8 800,680 620,680" fill="#222222"/>
  <rect x="630" y="512" width="157" height="156" filter="url(#nz)" opacity="0.4"/>
  <line x1="630" y1="633" x2="787" y2="558" stroke="#111" stroke-width="2.5" opacity="0.7" filter="url(#bl1)"/>
</g>
<g font-size="10" font-weight="bold" fill="#fff">
  <text x="473" y="364">(a)</text><text x="473" y="375">as-baked</text>
  <text x="578" y="435">SOG</text><text x="518" y="450">TaN</text>
  <text x="634" y="364">(b)</text><text x="634" y="376">cured</text>
  <text x="665" y="427">TaN</text><text x="723" y="446">SOG</text>
  <text x="473" y="525">(c)</text><text x="473" y="536">as-baked</text>
  <text x="561" y="578">Si substrate</text><text x="524" y="615">SOG</text>
  <text x="634" y="525">(d)</text><text x="634" y="537">cured</text>
  <text x="665" y="587">SOG</text><text x="716" y="608">Si substrate</text>
</g>
<g font-family="Liberation Mono, monospace" font-size="9.5" fill="#fff">
  <text x="480" y="495">20 nm</text><text x="640" y="495">20 nm</text><text x="480" y="655">20 nm</text><text x="640" y="655">20 nm</text>
</g>
<g stroke="#fff" stroke-width="1.2">
  <line x1="480" y1="498" x2="541" y2="498"/><line x1="640" y1="498" x2="700" y2="498"/>
  <line x1="480" y1="658" x2="541" y2="658"/><line x1="640" y1="658" x2="701" y2="658"/>
</g>
<text x="513" y="700" font-family="Liberation Serif, serif" font-weight="bold" font-size="18" fill="#111" textLength="233" lengthAdjust="spacingAndGlyphs">High resolution TEM images</text>

<!-- ================= Contact angle ================= -->
<rect x="878" y="359" width="380" height="309" fill="none" stroke="#222" stroke-width="1.3"/>
<g stroke="#222" stroke-width="1">
  <path d="M878 668 h6 M878 637.1 h3 M878 606.2 h6 M878 575.3 h3 M878 544.4 h6 M878 513.5 h3 M878 482.6 h6 M878 451.7 h3 M878 420.8 h6 M878 389.9 h3 M878 359 h6"/>
  <path d="M1258 668 h-6 M1258 637.1 h-3 M1258 606.2 h-6 M1258 575.3 h-3 M1258 544.4 h-6 M1258 513.5 h-3 M1258 482.6 h-6 M1258 451.7 h-3 M1258 420.8 h-6 M1258 389.9 h-3 M1258 359 h-6"/>
  <path d="M915.7 668 v-6 M953.3 668 v-3 M992.2 668 v-6 M1030.3 668 v-3 M1068.7 668 v-6 M1106.9 668 v-3 M1145.2 668 v-6 M1183.4 668 v-3 M1221.7 668 v-6"/>
  <path d="M915.7 359 v6 M953.3 359 v3 M992.2 359 v6 M1030.3 359 v3 M1068.7 359 v6 M1106.9 359 v3 M1145.2 359 v6 M1183.4 359 v3 M1221.7 359 v6"/>
</g>
<g font-size="12.5" fill="#222" text-anchor="end">
  <text x="867" y="672.5">60</text><text x="867" y="610.7">70</text><text x="867" y="548.9">80</text><text x="867" y="487.1">90</text><text x="867" y="425.3">100</text><text x="867" y="363.5">110</text>
</g>
<text transform="translate(838,513) rotate(-90)" font-size="15.5" fill="#222" text-anchor="middle">Contact angle (°)</text>
<g>
  <rect x="908" y="489" width="74" height="53" fill="url(#dg)"/>
  <rect x="908" y="533" width="74" height="9" fill="url(#bar)"/>
  <rect x="940.5" y="489" width="7" height="25" rx="3" fill="#111"/>
  <path d="M932 535 a12.5 12.5 0 0 1 25 0 z" fill="#111"/>
  <circle cx="944.5" cy="528" r="1.5" fill="#888"/>
</g>
<g>
  <rect x="989" y="433" width="74" height="52" fill="url(#dg)"/>
  <rect x="989" y="476" width="74" height="9" fill="url(#bar)"/>
  <rect x="1022" y="433" width="7" height="22" rx="3" fill="#111"/>
  <path d="M1014 478 a11.5 12 0 0 1 23 0 z" fill="#111"/>
  <circle cx="1025.5" cy="471" r="1.5" fill="#999"/>
</g>
<g>
  <rect x="1080" y="433" width="72" height="3" fill="#999"/>
  <rect x="1080" y="436" width="72" height="14" fill="url(#bar)"/>
  <rect x="1112" y="397" width="7" height="17" rx="2" fill="#111"/>
  <path d="M1105 438 a11 11 0 1 1 21 0 z" fill="#111"/>
  <circle cx="1115.5" cy="434" r="2" fill="#ddd"/>
</g>
<g>
  <rect x="1172" y="418" width="75" height="5" fill="#777"/>
  <rect x="1205" y="368" width="7" height="18" rx="2" fill="#111"/>
  <path d="M1199 420 a11.5 11.5 0 1 1 22 0 z" fill="#111"/>
  <circle cx="1210" cy="415" r="2" fill="#eee"/>
</g>
<g>
  <rect x="940" y="613" width="75" height="52" fill="url(#dg)"/>
  <rect x="940" y="656" width="75" height="9" fill="url(#bar)"/>
  <rect x="973" y="613" width="8" height="25" rx="3" fill="#111"/>
  <path d="M963 659 q14 -20 28 0 z" fill="#111"/>
</g>
<polyline points="915.7,643.3 992.2,538.2 1068.7,494.9 1145.2,476.4 1221.7,439.3" fill="none" stroke="#555" stroke-width="0.9" stroke-dasharray="2,2"/>
<g fill="#000">
  <circle cx="915.7" cy="643.3" r="5"/><circle cx="992.2" cy="538.2" r="5"/><circle cx="1068.7" cy="494.9" r="5"/><circle cx="1145.2" cy="476.4" r="5"/><circle cx="1221.7" cy="439.3" r="5"/>
</g>
<g font-size="14" fill="#222" text-anchor="middle">
  <text x="1010" y="566">T-111</text><text x="1010" y="583">(as-baked)</text>
  <text x="1073" y="521">T-512B</text><text x="1073" y="538">(as-baked)</text>
  <text x="1148" y="498">T-111</text><text x="1148" y="515">(cured)</text>
  <text x="1225" y="463">T-512B</text><text x="1225" y="480">(cured)</text>
</g>
<text x="903" y="662" font-size="14" fill="#222">SiO<tspan font-size="10" dy="3">2</tspan></text>
<text x="951" y="700" font-family="Liberation Serif, serif" font-weight="bold" font-size="18" fill="#111" textLength="225" lengthAdjust="spacingAndGlyphs">Contact angle measurement</text>
</svg>
</body></html>
